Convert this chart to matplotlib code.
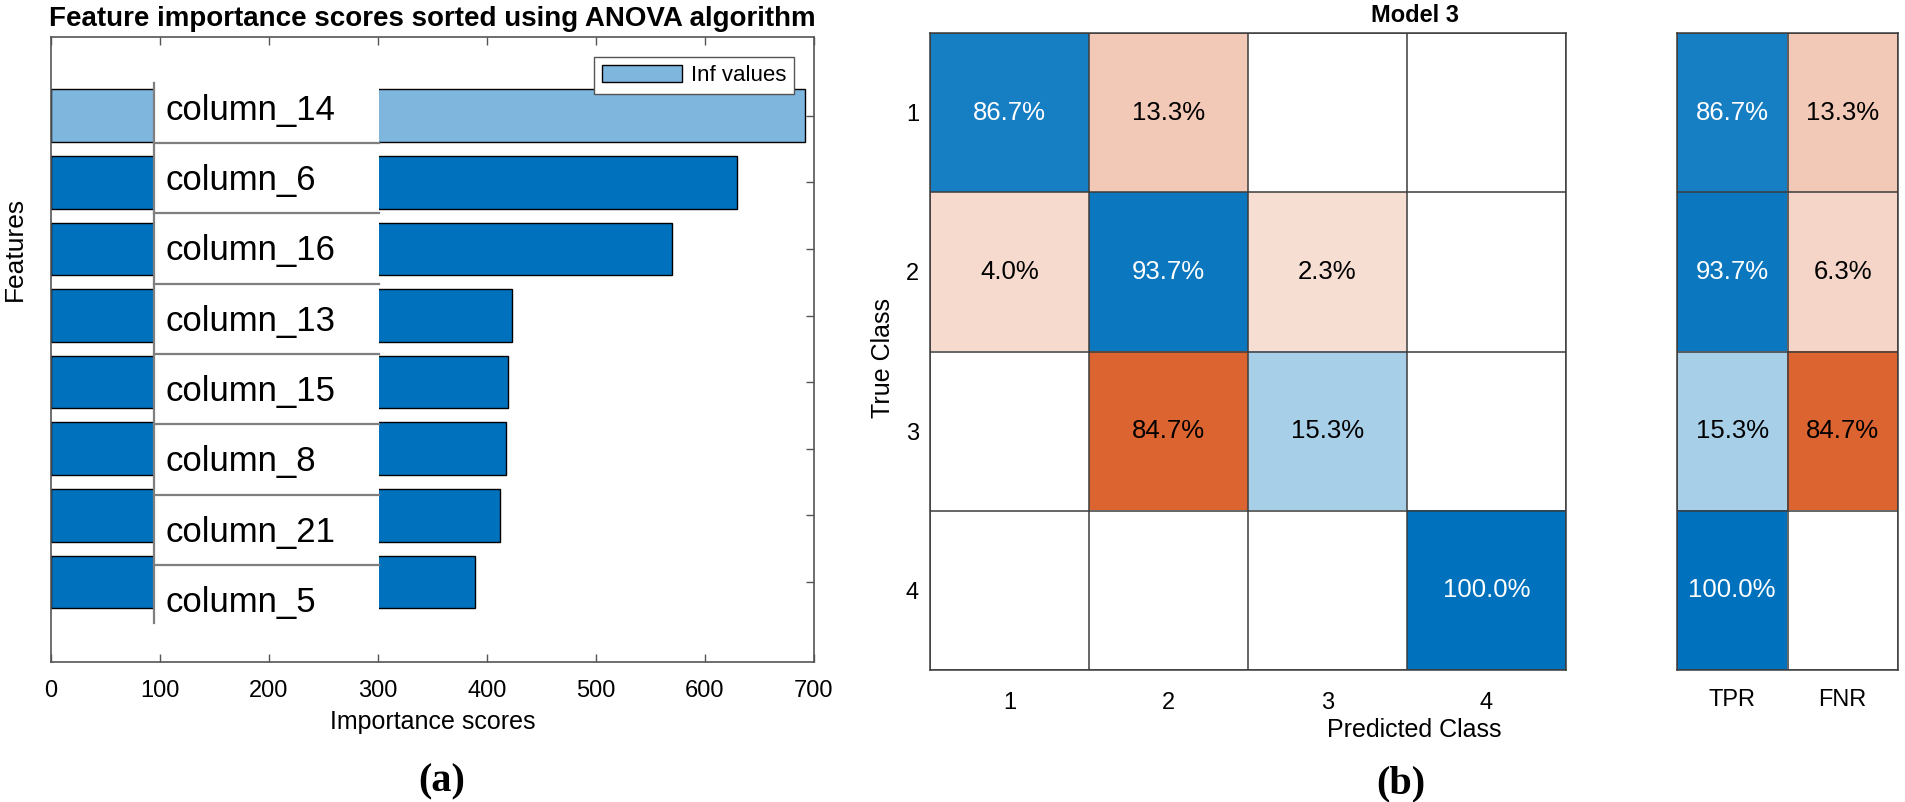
import numpy as np
import matplotlib
matplotlib.use('Agg')
import matplotlib.pyplot as plt
from matplotlib.colors import LinearSegmentedColormap, PowerNorm, to_rgb
from matplotlib.patches import Rectangle

plt.rcParams['font.family'] = ['Liberation Sans', 'DejaVu Sans']

# ---- data ----
features = ['column_14', 'column_6', 'column_16', 'column_13',
            'column_15', 'column_8', 'column_21', 'column_5']
scores = [692, 629, 570, 423, 419, 417, 412, 389]
is_inf = [True, False, False, False, False, False, False, False]

classes = ['1', '2', '3', '4']
conf_pct = np.array([
    [86.7, 13.3, 0.0, 0.0],
    [4.0, 93.7, 2.3, 0.0],
    [0.0, 84.7, 15.3, 0.0],
    [0.0, 0.0, 0.0, 100.0],
])
tpr = [86.7, 93.7, 15.3, 100.0]
fnr = [13.3, 6.3, 84.7, 0.0]
rate_labels = ['TPR', 'FNR']

W, H = 1905, 802
fig = plt.figure(figsize=(W / 100, H / 100), dpi=100)


def px_axes(x0, y0, x1, y1):
    # axes from pixel box (top-left origin)
    return fig.add_axes([x0 / W, 1 - y1 / H, (x1 - x0) / W, (y1 - y0) / H])


spine_col = '#555555'
grid_col = '#3c3c3c'

# ================= (a) feature importance =================
ax = px_axes(51, 37, 814, 662)
ypos = np.arange(len(features))[::-1] + 1
bar_cols = ['#7EB6DE' if f else '#0072BD' for f in is_inf]
bars = ax.barh(ypos, scores, height=0.79, color=bar_cols,
               edgecolor='black', linewidth=1, zorder=2)

# white label boxes drawn over the bars
box_x0, box_x1 = 93.5, 300.5
sep0, pitch = 7.587, 1.0556
for k, name in enumerate(features):
    top = 8.49 if k == 0 else sep0 - (k - 1) * pitch
    bottom = 0.18 if k == len(features) - 1 else sep0 - k * pitch
    ax.add_patch(Rectangle((box_x0, bottom), box_x1 - box_x0, top - bottom,
                           facecolor='white', edgecolor='none', zorder=3))
    ax.text(105.5, 8.08 - k * pitch, name, fontsize=25, ha='left',
            va='center', zorder=5)
for k in range(len(features) - 1):
    y = sep0 - k * pitch
    ax.plot([94.5, box_x1], [y, y], color='#7f7f7f', lw=1.6, zorder=4)
ax.plot([94.5, 94.5], [8.49, 0.38], color='#7f7f7f', lw=1.6, zorder=4)

ax.set_xlim(0, 700)
ax.set_ylim(-0.2, 9.18)
ax.set_xticks(range(0, 701, 100))
ax.set_yticks(ypos)
ax.set_yticklabels([])
ax.tick_params(direction='in', length=5.5, width=1, color=spine_col,
               top=True, right=True, labelsize=17, pad=13)
for s in ax.spines.values():
    s.set_color(spine_col)
    s.set_linewidth(1.2)

ax.set_title('Feature importance scores sorted using ANOVA algorithm',
             fontsize=20, fontweight='bold', pad=8)
ax.set_xlabel('Importance scores', fontsize=18)
ax.xaxis.set_label_coords(0.5, (662 - 722) / 625)
ax.xaxis.label.set_va('center')
ax.set_ylabel('Features', fontsize=19)
ax.yaxis.set_label_coords((15 - 51) / 763, (662 - 249) / 625)
ax.yaxis.label.set_va('center')

leg = ax.legend([bars[0]], ['Inf values'], loc='upper right',
                bbox_to_anchor=((794 - 51) / 763, (662 - 57) / 625),
                fontsize=16, fancybox=False, framealpha=1, edgecolor=spine_col,
                borderaxespad=0, handlelength=3.6, handleheight=0.85,
                handletextpad=0.4, borderpad=0.35)
leg.get_frame().set_linewidth(1)

# ================= (b) confusion chart =================
blue = to_rgb('#0072BD')
orange = to_rgb('#D95319')


def tint(c, t):
    return tuple(1 - t * (1 - ci) for ci in c)


blue_cmap = LinearSegmentedColormap.from_list('cm_blue', [tint(blue, 0.15), blue])
orange_cmap = LinearSegmentedColormap.from_list('cm_orange', [tint(orange, 0.15), orange])
norm = PowerNorm(gamma=0.8, vmin=0, vmax=100)


def draw_cells(axc, vals, diag_mask):
    vals = np.asarray(vals, dtype=float)
    empty = vals == 0
    axc.imshow(np.ma.masked_where(~diag_mask | empty, vals), cmap=blue_cmap,
               norm=norm, aspect='auto', interpolation='nearest')
    axc.imshow(np.ma.masked_where(diag_mask | empty, vals), cmap=orange_cmap,
               norm=norm, aspect='auto', interpolation='nearest')
    nr, nc = vals.shape
    for i in range(nr):
        for j in range(nc):
            v = vals[i, j]
            if v == 0:
                continue
            col = 'white' if (diag_mask[i, j] and v > 50) else 'black'
            axc.text(j, i, f'{v:.1f}%', ha='center', va='center',
                     fontsize=18.5, color=col)
    for k in np.arange(-0.5, nr + 0.5):
        axc.axhline(k, color=grid_col, lw=1.1)
    for k in np.arange(-0.5, nc + 0.5):
        axc.axvline(k, color=grid_col, lw=1.1)
    axc.set_xlim(-0.5, nc - 0.5)
    axc.set_ylim(nr - 0.5, -0.5)
    for s in axc.spines.values():
        s.set_color(grid_col)
        s.set_linewidth(1.1)
    axc.tick_params(length=0, labelsize=17)


cm_ax = px_axes(930, 33, 1566, 670)
draw_cells(cm_ax, conf_pct, np.eye(4, dtype=bool))
cm_ax.set_xticks(range(4))
cm_ax.set_xticklabels(classes)
cm_ax.set_yticks(range(4))
cm_ax.set_yticklabels(classes)
cm_ax.tick_params(axis='x', pad=16)
cm_ax.tick_params(axis='y', pad=8)
cm_ax.set_ylabel('True Class', fontsize=18)
cm_ax.yaxis.set_label_coords((883 - 930) / 636, 0.49)
cm_ax.yaxis.label.set_va('center')

rate_ax = px_axes(1677, 33, 1898, 670)
rates = np.column_stack([tpr, fnr])
rate_diag = np.zeros(rates.shape, dtype=bool)
rate_diag[:, 0] = True
draw_cells(rate_ax, rates, rate_diag)
rate_ax.set_xticks(range(2))
rate_ax.set_xticklabels(rate_labels)
rate_ax.set_yticks([])
rate_ax.tick_params(axis='x', pad=14)

fig.text(1415 / W, 1 - 15 / H, 'Model 3', ha='center', va='center',
         fontsize=17, fontweight='bold')
fig.text(1414 / W, 1 - 730 / H, 'Predicted Class', ha='center', va='center',
         fontsize=18)

# panel captions
fig.text(442 / W, 1 - 782 / H, '(a)', ha='center', va='center', fontsize=29,
         fontweight='bold', family=['Liberation Serif', 'DejaVu Serif'])
fig.text(1401 / W, 1 - 784 / H, '(b)', ha='center', va='center', fontsize=29,
         fontweight='bold', family=['Liberation Serif', 'DejaVu Serif'])

fig.savefig('out.png', dpi=100)
